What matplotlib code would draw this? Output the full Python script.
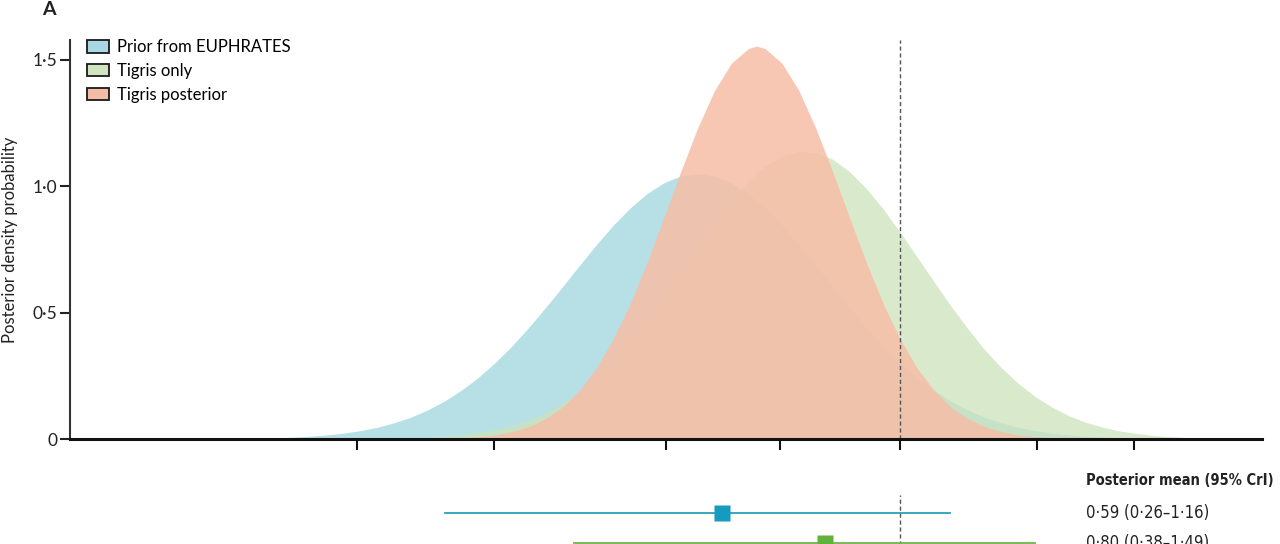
import numpy as np
import matplotlib
matplotlib.use("Agg")
import matplotlib.pyplot as plt
from matplotlib.patches import Patch
from matplotlib.ticker import FixedLocator, NullLocator
from matplotlib.transforms import blended_transform_factory

plt.rcParams['font.family'] = ['Lato', 'DejaVu Sans']

log_hr = [-2.00, -1.95, -1.90, -1.85, -1.80, -1.75, -1.70, -1.65, -1.60, -1.55,
          -1.50, -1.45, -1.40, -1.35, -1.30, -1.25, -1.20, -1.15, -1.10, -1.05,
          -1.00, -0.95, -0.90, -0.85, -0.80, -0.75, -0.70, -0.65, -0.60, -0.55,
          -0.50, -0.45, -0.425, -0.40, -0.35, -0.30, -0.25, -0.20, -0.15, -0.10, -0.05,
          0.00, 0.05, 0.10, 0.15, 0.20, 0.25, 0.30, 0.35, 0.40, 0.45,
          0.50, 0.55, 0.60, 0.65, 0.70, 0.75, 0.80, 0.85, 0.90, 0.95,
          1.00, 1.05, 1.10]

dens_prior = [0.001, 0.002, 0.003, 0.005, 0.007, 0.011, 0.016, 0.023, 0.033, 0.046,
              0.064, 0.086, 0.115, 0.150, 0.193, 0.243, 0.302, 0.368, 0.442, 0.521,
              0.603, 0.687, 0.769, 0.846, 0.914, 0.971, 1.014, 1.041, 1.050, 1.041,
              1.014, 0.971, 0.944, 0.914, 0.846, 0.769, 0.687, 0.603, 0.521, 0.442, 0.368,
              0.302, 0.243, 0.193, 0.150, 0.115, 0.086, 0.064, 0.046, 0.033, 0.023,
              0.016, 0.011, 0.007, 0.005, 0.003, 0.002, 0.001, 0.0, 0.0, 0.0,
              0.0, 0.0, 0.0]

dens_tigris = [0.0, 0.0, 0.0, 0.0, 0.0, 0.0, 0.0, 0.0, 0.001, 0.002,
               0.003, 0.005, 0.007, 0.011, 0.017, 0.026, 0.037, 0.054, 0.076, 0.105,
               0.142, 0.188, 0.244, 0.310, 0.386, 0.472, 0.564, 0.662, 0.760, 0.856,
               0.944, 1.020, 1.052, 1.080, 1.121, 1.139, 1.134, 1.107, 1.058, 0.991, 0.910,
               0.818, 0.721, 0.623, 0.527, 0.437, 0.354, 0.282, 0.220, 0.168, 0.126,
               0.092, 0.066, 0.047, 0.032, 0.022, 0.014, 0.009, 0.006, 0.004, 0.002,
               0.001, 0.001, 0.0]

dens_post = [0.0, 0.0, 0.0, 0.0, 0.0, 0.0, 0.0, 0.0, 0.0, 0.0,
             0.0, 0.0, 0.001, 0.002, 0.005, 0.009, 0.016, 0.029, 0.049, 0.081,
             0.127, 0.193, 0.281, 0.396, 0.535, 0.698, 0.876, 1.058, 1.231, 1.379,
             1.487, 1.545, 1.555, 1.545, 1.487, 1.379, 1.231, 1.058, 0.876, 0.698, 0.535,
             0.396, 0.281, 0.193, 0.127, 0.081, 0.049, 0.029, 0.016, 0.009, 0.005,
             0.002, 0.001, 0.0, 0.0, 0.0, 0.0, 0.0, 0.0, 0.0, 0.0,
             0.0, 0.0, 0.0]

series_labels = ['Prior from EUPHRATES', 'Tigris only', 'Tigris posterior']

# posterior mean and 95% CrI rows (lower panel)
row_mean = [0.59, 0.80]
row_low = [0.26, 0.38]
row_high = [1.16, 1.49]

x_ticks = [0.2, 0.3, 0.5, 0.7, 1.0, 1.5, 2.0]
y_ticks = [0, 0.5, 1.0, 1.5]
y_ticklabels = ['0', '0·5', '1·0', '1·5']

fill_cols = ['#b6dfe6', '#cce2bb', '#f7bea7']
fill_alpha = [1.0, 0.75, 0.85]
swatch_cols = ['#a9d8e2', '#cfe4bf', '#f4bea6']
row_line_cols = ['#2a9fb8', '#6db34e']
row_mark_cols = ['#159ac0', '#5fb33c']

fig = plt.figure(figsize=(12.8, 5.44), dpi=100)
ax = fig.add_axes([0.0547, 0.193, 0.9313, 0.7335])

hr = np.exp(np.array(log_hr))
for d, c, a in zip([dens_prior, dens_tigris, dens_post], fill_cols, fill_alpha):
    ax.fill_between(hr, 0, d, color=c, alpha=a, lw=0)

ax.set_xscale('log')
ax.set_xlim(0.0855, 2.922)
ax.set_ylim(0, 1.579)
ax.axvline(1.0, color='#555555', lw=1, ls=(0, (3, 2)))

ax.xaxis.set_major_locator(FixedLocator(x_ticks))
ax.xaxis.set_minor_locator(NullLocator())
ax.set_xticklabels([''] * len(x_ticks))
ax.set_yticks(y_ticks)
ax.set_yticklabels(y_ticklabels, fontsize=12.5, color='#222222')
ax.tick_params(axis='x', direction='out', length=8, width=1.5, color='#111111')
ax.tick_params(axis='y', direction='out', length=7, width=1.5, color='#222222', pad=2)

for s in ['top', 'right']:
    ax.spines[s].set_visible(False)
ax.spines['left'].set_linewidth(1.5)
ax.spines['left'].set_color('#333333')
ax.spines['bottom'].set_linewidth(2.2)
ax.spines['bottom'].set_color('#111111')

ax.set_ylabel('Posterior density probability', fontsize=12, color='#222222')
ax.yaxis.set_label_coords(-0.044, 0.5)

handles = [Patch(facecolor=c, edgecolor='#1a1a1a', lw=1.3) for c in swatch_cols]
fig.legend(handles, series_labels, loc='upper left', bbox_to_anchor=(0.068, 0.928),
           frameon=False, fontsize=12, handlelength=1.32, handleheight=0.78,
           handletextpad=0.45, labelspacing=0.47, borderpad=0, borderaxespad=0)

fig.text(0.033, 0.982, 'A', fontsize=14, fontweight='bold', va='center', color='#222222')

# lower panel: posterior means with credible intervals (figure is cropped here)
bx = fig.add_axes([0.0547, -0.1085, 0.9313, 0.1985])
bx.set_xscale('log')
bx.set_xlim(0.0855, 2.922)
bx.set_ylim(3.0, -0.6)
bx.axis('off')
bx.axvline(1.0, color='#555555', lw=1, ls=(0, (3, 2)))
for i in range(len(row_mean)):
    bx.plot([row_low[i], row_high[i]], [i, i], color=row_line_cols[i], lw=1.3)
    bx.plot(row_mean[i], i, marker='s', ms=11, color=row_mark_cols[i], mec='none')

tr = blended_transform_factory(bx.transAxes, bx.transData)
narrow = ['DejaVu Sans Condensed', 'DejaVu Sans']
bx.text(0.852, -1.1, 'Posterior mean (95% CrI)', transform=tr, fontsize=10.5,
        fontweight='bold', family=narrow, fontstretch='condensed', va='center',
        clip_on=False, color='#222222')
for i in range(len(row_mean)):
    lab = '{:.2f} ({:.2f}–{:.2f})'.format(row_mean[i], row_low[i], row_high[i]).replace('.', '·')
    bx.text(0.852, i, lab, transform=tr, fontsize=12, family=narrow,
            fontstretch='condensed', va='center', clip_on=False, color='#222222')

fig.savefig('out.png', dpi=100)
